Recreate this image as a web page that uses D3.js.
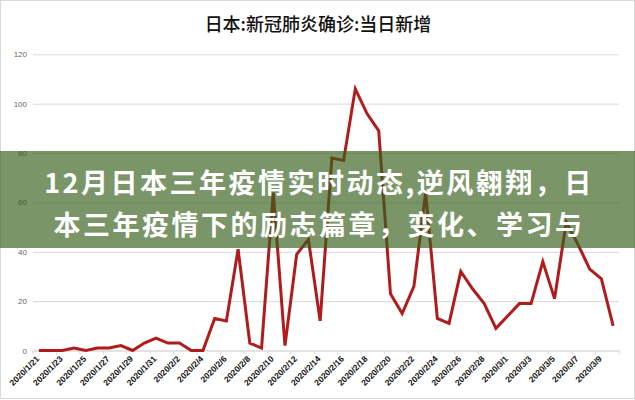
<!DOCTYPE html>
<html><head><meta charset="utf-8">
<script src="https://cdn.jsdelivr.net/npm/d3@7"></script>
<style>html,body{margin:0;padding:0;background:#fff;}svg{display:block;}</style>
</head><body>
<svg id="c" width="635" height="400"></svg>
<script>
const title = "日本:新冠肺炎确诊:当日新增";
const dates = ["2020/1/21","2020/1/22","2020/1/23","2020/1/24","2020/1/25","2020/1/26","2020/1/27","2020/1/28","2020/1/29","2020/1/30","2020/1/31",
"2020/2/1","2020/2/2","2020/2/3","2020/2/4","2020/2/5","2020/2/6","2020/2/7","2020/2/8","2020/2/9","2020/2/10","2020/2/11","2020/2/12","2020/2/13","2020/2/14","2020/2/15","2020/2/16","2020/2/17","2020/2/18","2020/2/19","2020/2/20","2020/2/21","2020/2/22","2020/2/23","2020/2/24","2020/2/25","2020/2/26","2020/2/27","2020/2/28","2020/2/29",
"2020/3/1","2020/3/2","2020/3/3","2020/3/4","2020/3/5","2020/3/6","2020/3/7","2020/3/8","2020/3/9","2020/3/10"];
const values = [0,0,0,1,0,1,1,2,0,3,5,
3,3,0,0,13,12,41,3,1,64,2,39,45,12,78,77,106,96,89,23,15,26,64,13,11,32,25,19,9,
14,19,19,36,21,52,43,33,29,10];
const yTicks = [0,20,40,60,80,100,120];
const bannerLines = ["12月日本三年疫情实时动态,逆风翱翔，日","本三年疫情下的励志篇章，变化、学习与"];

const svg = d3.select("#c");
const W = 635, H = 400;
const L = 33, R = 619, T = 54.3, B = 350.5;

svg.append("rect").attr("x",0.5).attr("y",0.5).attr("width",W-1).attr("height",H-2)
  .attr("fill","#fff").attr("stroke","#d9d9d9");

svg.append("text").attr("x",318).attr("y",31).attr("text-anchor","middle")
  .attr("font-family","'Noto Sans CJK SC'").attr("font-weight",500).attr("font-size",18).attr("fill","#111")
  .text(title);

const x = d3.scaleBand().domain(dates).range([L,R]).padding(0);
const y = d3.scaleLinear().domain([0,120]).range([B,T]);

// gridlines + y labels
const yAxis = d3.axisLeft(y).tickValues(yTicks).tickSize(-(R-L)).tickFormat(d3.format("d"));
const gy = svg.append("g").attr("transform",`translate(${L},0)`).call(yAxis);
gy.select(".domain").remove();
gy.selectAll(".tick line").attr("stroke","#d9d9d9");
gy.selectAll(".tick text").attr("x",-6).attr("fill","#666")
  .attr("font-family","'Liberation Sans Narrow','Liberation Sans'").attr("font-size",8);

// x axis
const tickDates = dates.filter((d,i)=>i%2===0);
const xAxis = d3.axisBottom(x).tickValues(tickDates).tickSize(4).tickSizeOuter(0);
const gx = svg.append("g").attr("transform",`translate(0,${B})`).call(xAxis);
gx.select(".domain").attr("stroke","#d9d9d9");
gx.selectAll(".tick line").attr("stroke","#d9d9d9").attr("transform",`translate(${-x.bandwidth()/2},0)`);
gx.selectAll(".tick text")
  .attr("font-family","'Liberation Sans Narrow','Liberation Sans'").attr("font-size",8.5)
  .attr("font-weight","bold").attr("fill","#111")
  .attr("text-anchor","end").attr("dy",null).attr("y",0)
  .attr("transform","translate(1,9) rotate(-45)");
gx.append("line").attr("x1",R).attr("x2",R).attr("y1",0).attr("y2",4).attr("stroke","#d9d9d9");

// line
const line = d3.line().x((d,i)=>x(dates[i])+x.bandwidth()/2).y(d=>y(d));
svg.append("path").datum(values).attr("d",line).attr("fill","none")
  .attr("stroke","#b01c1c").attr("stroke-width",3).attr("stroke-linejoin","miter");

// overlay banner
svg.append("rect").attr("x",0).attr("y",151).attr("width",W).attr("height",97)
  .attr("fill","rgb(53,96,28)").attr("fill-opacity",0.66);
svg.selectAll("text.ban").data(bannerLines).enter().append("text").attr("class","ban")
  .attr("x",319).attr("y",(d,i)=>193+i*42).attr("text-anchor","middle")
  .attr("font-family","'Noto Sans CJK SC'").attr("font-weight","bold").attr("font-size",27)
  .attr("letter-spacing",2.5).attr("fill","#fff")
  .text(d=>d);
</script>
</body></html>
